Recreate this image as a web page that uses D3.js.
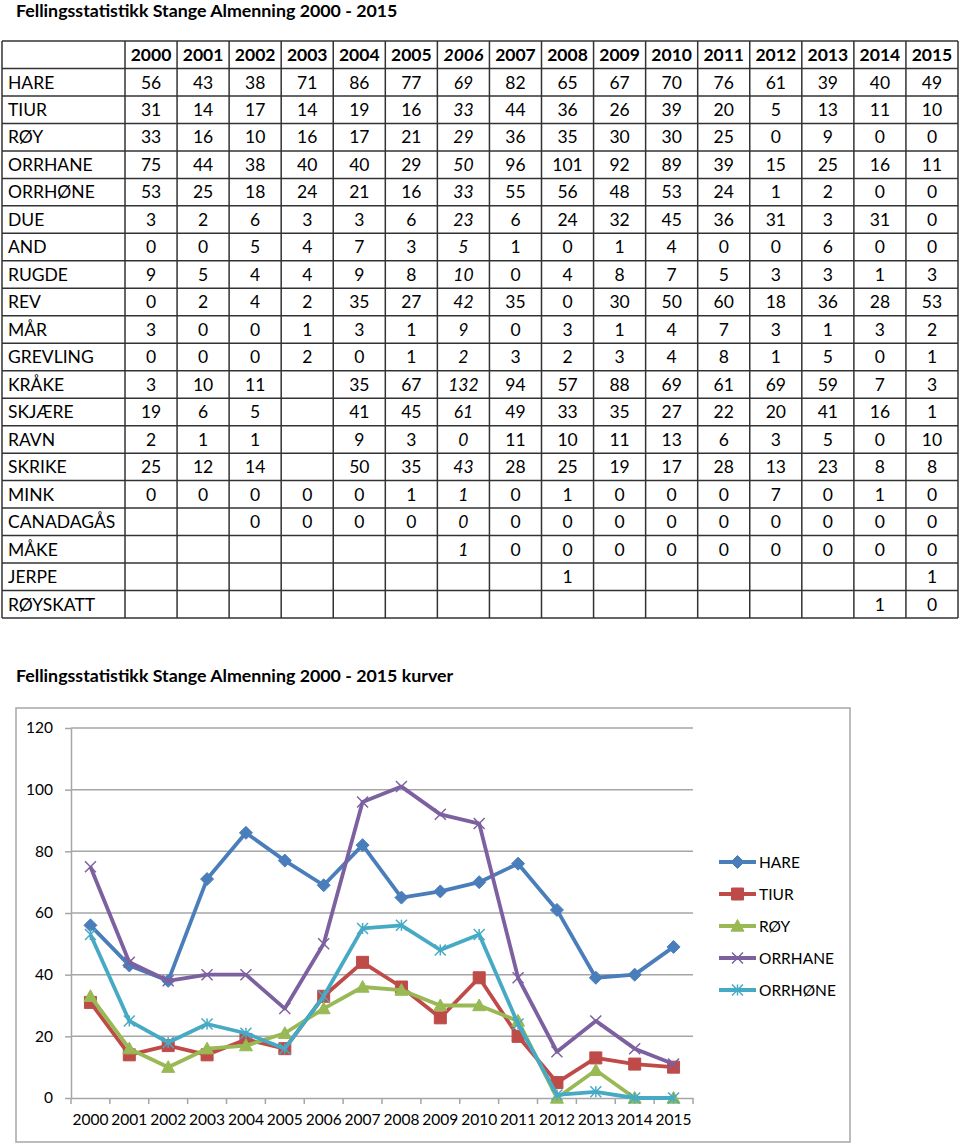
<!DOCTYPE html>
<html><head><meta charset="utf-8">
<script src="https://cdn.jsdelivr.net/npm/d3@7"></script>
<style>
body{margin:0;background:#fff;}
svg{display:block;font-family:Lato,"Open Sans",sans-serif;}
</style></head>
<body><svg id="c" width="960" height="1144"></svg>
<script>
const years = ["2000","2001","2002","2003","2004","2005","2006","2007","2008","2009","2010","2011","2012","2013","2014","2015"];
const species = ["HARE","TIUR","RØY","ORRHANE","ORRHØNE","DUE","AND","RUGDE","REV","MÅR","GREVLING","KRÅKE","SKJÆRE","RAVN","SKRIKE","MINK","CANADAGÅS","MÅKE","JERPE","RØYSKATT"];
const hare     = [56,43,38,71,86,77,69,82,65,67,70,76,61,39,40,49];
const tiur     = [31,14,17,14,19,16,33,44,36,26,39,20,5,13,11,10];
const roy      = [33,16,10,16,17,21,29,36,35,30,30,25,0,9,0,0];
const orrhane  = [75,44,38,40,40,29,50,96,101,92,89,39,15,25,16,11];
const orrhone  = [53,25,18,24,21,16,33,55,56,48,53,24,1,2,0,0];
const due      = [3,2,6,3,3,6,23,6,24,32,45,36,31,3,31,0];
const and      = [0,0,5,4,7,3,5,1,0,1,4,0,0,6,0,0];
const rugde    = [9,5,4,4,9,8,10,0,4,8,7,5,3,3,1,3];
const rev      = [0,2,4,2,35,27,42,35,0,30,50,60,18,36,28,53];
const mar      = [3,0,0,1,3,1,9,0,3,1,4,7,3,1,3,2];
const grevling = [0,0,0,2,0,1,2,3,2,3,4,8,1,5,0,1];
const krake    = [3,10,11,null,35,67,132,94,57,88,69,61,69,59,7,3];
const skjaere  = [19,6,5,null,41,45,61,49,33,35,27,22,20,41,16,1];
const ravn     = [2,1,1,null,9,3,0,11,10,11,13,6,3,5,0,10];
const skrike   = [25,12,14,null,50,35,43,28,25,19,17,28,13,23,8,8];
const mink     = [0,0,0,0,0,1,1,0,1,0,0,0,7,0,1,0];
const canadagas= [null,null,0,0,0,0,0,0,0,0,0,0,0,0,0,0];
const make     = [null,null,null,null,null,null,1,0,0,0,0,0,0,0,0,0];
const jerpe    = [null,null,null,null,null,null,null,null,1,null,null,null,null,null,null,1];
const royskatt = [null,null,null,null,null,null,null,null,null,null,null,null,null,null,1,0];
const tableValues = [hare,tiur,roy,orrhane,orrhone,due,and,rugde,rev,mar,grevling,krake,skjaere,ravn,skrike,mink,canadagas,make,jerpe,royskatt];
const chartSeries = ["HARE","TIUR","RØY","ORRHANE","ORRHØNE"];
const chartValues = [hare,tiur,roy,orrhane,orrhone];
const seriesColors = ["#4A7EBB","#BE4B48","#98B954","#7D60A0","#46AAC5"];
const seriesMarkers = ["diamond","square","triangle","x","star"];
const yTicks = [0,20,40,60,80,100,120];

const svg = d3.select("#c");

// ---------- Title 1 ----------
svg.append("text").attr("x",16).attr("y",17).attr("font-weight","bold").attr("font-size",17.8)
  .text("Fellingsstatistikk Stange Almenning 2000 - 2015");

// ---------- Table ----------
const tLeft = 2, tRight = 958, tTop = 41, tBottom = 618, firstColRight = 125;
const colX = d3.scaleBand().domain(years).range([firstColRight, tRight]);
const rowY = d3.scaleBand().domain(["__header"].concat(species)).range([tTop, tBottom]);
const tg = svg.append("g");
const fs = 17.5;
// header
tg.selectAll("text.h").data(years).join("text")
  .attr("x", d => colX(d) + colX.bandwidth()/2)
  .attr("y", rowY("__header") + rowY.bandwidth()/2)
  .attr("dy","0.36em").attr("text-anchor","middle")
  .attr("font-weight","bold").attr("font-size",fs)
  .attr("font-style", d => d === "2006" ? "italic" : null)
  .text(d => d);
// labels
tg.selectAll("text.l").data(species).join("text")
  .attr("x", tLeft + 6)
  .attr("y", d => rowY(d) + rowY.bandwidth()/2)
  .attr("dy","0.36em").attr("font-size",fs)
  .text(d => d);
// values
species.forEach((s,i) => {
  tg.append("g").selectAll("text").data(tableValues[i].map((v,j)=>({v, y:years[j]})).filter(d=>d.v!==null))
    .join("text")
    .attr("x", d => colX(d.y) + colX.bandwidth()/2)
    .attr("y", rowY(s) + rowY.bandwidth()/2)
    .attr("dy","0.36em").attr("text-anchor","middle").attr("font-size",fs)
    .attr("font-style", d => d.y === "2006" ? "italic" : null)
    .text(d => d.v);
});
// grid lines
const rowEdges = [tTop].concat(species.map(s => rowY(s))).concat([tBottom]);
tg.selectAll("line.r").data(rowEdges).join("line")
  .attr("x1",tLeft).attr("x2",tRight).attr("y1",d=>d).attr("y2",d=>d)
  .attr("stroke","#333").attr("stroke-width",1.5);
const colEdges = [tLeft, firstColRight].concat(years.slice(1).map(y=>colX(y))).concat([tRight]);
tg.selectAll("line.c").data(colEdges).join("line")
  .attr("x1",d=>d).attr("x2",d=>d).attr("y1",tTop).attr("y2",tBottom)
  .attr("stroke","#333").attr("stroke-width",1.5);

// ---------- Title 2 ----------
svg.append("text").attr("x",16).attr("y",682).attr("font-weight","bold").attr("font-size",17.8)
  .text("Fellingsstatistikk Stange Almenning 2000 - 2015 kurver");

// ---------- Chart ----------
svg.append("rect").attr("x",16).attr("y",708).attr("width",834).attr("height",434)
  .attr("fill","#fff").attr("stroke","#a6a6a6").attr("stroke-width",1.5);

const pL = 71, pR = 693, pT = 728, pB = 1098;
const x = d3.scaleBand().domain(years).range([pL,pR]);
const y = d3.scaleLinear().domain([0,120]).range([pB,pT]);
const cg = svg.append("g");

// gridlines
cg.selectAll("line.g").data(yTicks.filter(t=>t>0)).join("line")
  .attr("x1",pL).attr("x2",pR).attr("y1",d=>y(d)).attr("y2",d=>y(d))
  .attr("stroke","#a6a6a6").attr("stroke-width",1.5);

// y axis
const yAxis = cg.append("g").attr("transform",`translate(${pL},0)`)
  .call(d3.axisLeft(y).tickValues(yTicks).tickSize(6).tickPadding(12).tickSizeOuter(0));
yAxis.select(".domain").attr("stroke","#a6a6a6").attr("stroke-width",1.5);
yAxis.selectAll(".tick line").attr("stroke","#a6a6a6").attr("stroke-width",1.5);
yAxis.selectAll(".tick text").attr("font-family","Lato").attr("font-size",15.5).attr("fill","#000");

// x axis
const xAxis = cg.append("g").attr("transform",`translate(0,${pB})`)
  .call(d3.axisBottom(x).tickSize(0).tickPadding(16).tickSizeOuter(0));
xAxis.select(".domain").attr("stroke","#a6a6a6").attr("stroke-width",1.5);
xAxis.selectAll(".tick text").attr("font-family","Lato").attr("font-size",15.5).attr("fill","#000");
const xEdges = years.map(yr => x(yr)).concat([pR]);
cg.selectAll("line.xt").data(xEdges).join("line")
  .attr("x1",d=>d).attr("x2",d=>d).attr("y1",pB).attr("y2",pB+6)
  .attr("stroke","#a6a6a6").attr("stroke-width",1.5);

function markerPath(type, s){
  const h = s/2;
  switch(type){
    case "diamond": return `M0,${-h}L${h},0L0,${h}L${-h},0Z`;
    case "square": return `M${-h},${-h}H${h}V${h}H${-h}Z`;
    case "triangle": return `M0,${-h}L${h},${h*0.8}L${-h},${h*0.8}Z`;
    case "x": return `M${-h},${-h}L${h},${h}M${-h},${h}L${h},${-h}`;
    case "star": return `M${-h},${-h}L${h},${h}M${-h},${h}L${h},${-h}M0,${-h}V${h}`;
  }
}
const markerSize = {diamond:13, square:12, triangle:13, x:11, star:11};

const line = d3.line().x((d,i)=>x(years[i])+x.bandwidth()/2).y(d=>y(d));
chartValues.forEach((vals,i)=>{
  const g = cg.append("g");
  g.append("path").datum(vals).attr("d",line).attr("fill","none")
    .attr("stroke",seriesColors[i]).attr("stroke-width",3.8).attr("stroke-linejoin","round");
  const m = seriesMarkers[i];
  const open = (m==="x"||m==="star");
  g.selectAll("path.m").data(vals).join("path")
    .attr("transform",(d,j)=>`translate(${x(years[j])+x.bandwidth()/2},${y(d)})`)
    .attr("d",markerPath(m, markerSize[m]))
    .attr("fill", open ? "none" : seriesColors[i])
    .attr("stroke", seriesColors[i]).attr("stroke-width", open ? 1.5 : 1);
});

// legend
const lg = cg.append("g");
chartSeries.forEach((s,i)=>{
  const ly = 862 + i*32;
  const m = seriesMarkers[i];
  const open = (m==="x"||m==="star");
  lg.append("line").attr("x1",719).attr("x2",756).attr("y1",ly).attr("y2",ly)
    .attr("stroke",seriesColors[i]).attr("stroke-width",3.8);
  lg.append("path").attr("transform",`translate(737.5,${ly})`).attr("d",markerPath(m, markerSize[m]))
    .attr("fill", open ? "none" : seriesColors[i]).attr("stroke",seriesColors[i]).attr("stroke-width", open?1.5:1);
  lg.append("text").attr("x",759).attr("y",ly).attr("dy","0.36em").attr("font-size",15.5).text(s);
});
</script></body></html>
